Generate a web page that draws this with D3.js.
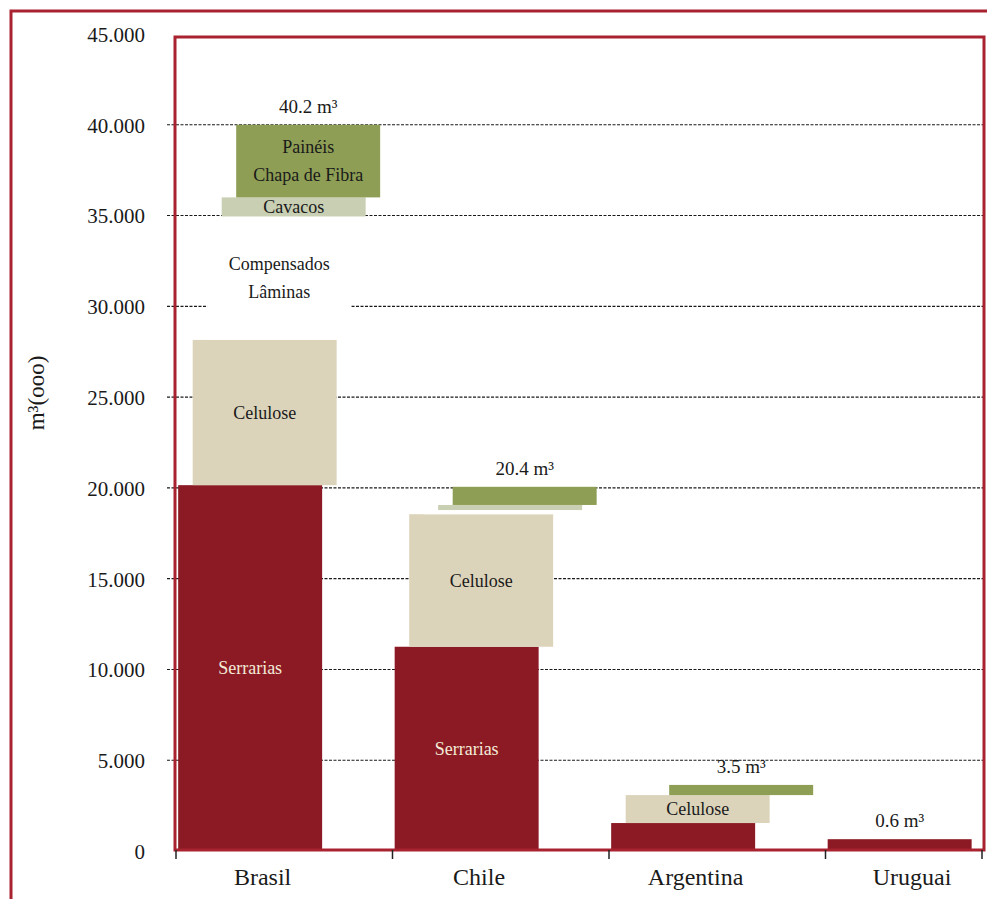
<!DOCTYPE html>
<html>
<head>
<meta charset="utf-8">
<script src="https://cdn.jsdelivr.net/npm/d3@7"></script>
<style>
  html, body { margin: 0; padding: 0; background: #ffffff; }
  svg { display: block; }
</style>
</head>
<body>
<svg id="chart" width="987" height="899"></svg>
<script>
// ---------- DATA (thousand m³) ----------
const categories = ["Brasil", "Chile", "Argentina", "Uruguai"];
const segmentNames = ["Serrarias", "Celulose", "Compensados", "Cavacos", "Painéis"];
const serrarias   = [20150, 11250, 1540, 650];
const celulose    = [8000, 7300, 1540, 0];
const compensados = [6800, 230, 0, 0];
const cavacos     = [1050, 280, 0, 0];
const paineis     = [4000, 1000, 560, 0];
const totalLabels = ["40.2", "20.4", "3.5", "0.6"];
const yTickValues = [0, 5000, 10000, 15000, 20000, 25000, 30000, 35000, 40000, 45000];
const segmentLabels = [
  [["Serrarias"], ["Celulose"], ["Compensados", "Lâminas"], ["Cavacos"], ["Painéis", "Chapa de Fibra"]],
  [["Serrarias"], ["Celulose"], [], [], []],
  [[], ["Celulose"], [], [], []],
  [[], [], [], [], []]
];
const yAxisTitle = "m³(ooo)";

// ---------- STYLE ----------
const FONT = '"Liberation Serif", "DejaVu Serif", serif';
const segColors = ["#8C1A24", "#DCD4BA", "#FFFFFF", "#C8CFB3", "#8E9F55"];
const segTextColors = ["#F3EAD8", "#1a1a1a", "#1a1a1a", "#1a1a1a", "#1a1a1a"];
const frameRed = "#A8232F";

const svg = d3.select("#chart");
const plot = { left: 175, right: 984, top: 37, bottom: 850 };

const series = [serrarias, celulose, compensados, cavacos, paineis];

const y = d3.scaleLinear().domain([0, 45000]).range([851, 34]);
const bandW = 216.5;
const x = d3.scaleBand().domain(categories)
  .range([176, 176 + bandW * categories.length]).paddingInner(0).paddingOuter(0);
const bw = x.bandwidth();
const barW = bw * 0.665;
const step = bw * 0.067;
const barOff = bw * 0.01;

// outer frame
svg.append("rect").attr("x", 11).attr("y", 11).attr("width", 1000).attr("height", 1000)
  .attr("fill", "none").attr("stroke", frameRed).attr("stroke-width", 3);

// gridlines
svg.append("g").selectAll("line")
  .data(yTickValues.filter(v => v > 0 && v < 45000))
  .join("line")
  .attr("x1", 167).attr("x2", plot.right)
  .attr("y1", d => y(d)).attr("y2", d => y(d))
  .attr("stroke", "#1a1a1a").attr("stroke-width", 1.1)
  .attr("stroke-dasharray", "3,1.5");

// y axis labels
const yAxis = d3.axisLeft(y).tickValues(yTickValues).tickSize(0).tickPadding(0)
  .tickFormat(d => d3.format(",")(d).replace(/,/g, "."));
const gy = svg.append("g").attr("transform", "translate(145,0)").call(yAxis);
gy.select(".domain").remove();
gy.selectAll("text").attr("font-family", FONT)
  .attr("font-size", 21).attr("fill", "#1a1a1a").attr("dy", "0.35em");

// y axis title
svg.append("text")
  .attr("transform", `translate(36,${393}) rotate(-90)`)
  .attr("text-anchor", "middle")
  .attr("dy", "0.35em")
  .attr("font-family", FONT)
  .attr("font-size", 23)
  .attr("fill", "#1a1a1a")
  .text(yAxisTitle);

// bars
const rows = [];
categories.forEach((c, ci) => {
  let cum = 0;
  series.forEach((s, si) => {
    const v = s[ci];
    rows.push({ c, ci, si, y0: cum, y1: cum + v, v });
    cum += v;
  });
});

const bars = svg.append("g");
bars.selectAll("rect")
  .data(rows.filter(r => r.v > 0))
  .join("rect")
  .attr("x", r => x(r.c) + barOff + r.si * step)
  .attr("width", barW)
  .attr("y", r => y(r.y1))
  .attr("height", r => y(r.y0) - y(r.y1))
  .attr("fill", r => segColors[r.si]);

// segment labels
const lab = svg.append("g");
rows.forEach(r => {
  const lines = segmentLabels[r.ci][r.si];
  if (!lines || !lines.length) return;
  const cx = x(r.c) + barOff + r.si * step + barW / 2;
  const cy = (y(r.y0) + y(r.y1)) / 2;
  const lh = 28;
  const t = lab.append("text")
    .attr("text-anchor", "middle")
    .attr("font-family", FONT)
    .attr("font-size", 18)
    .attr("fill", segTextColors[r.si]);
  lines.forEach((ln, i) => {
    t.append("tspan")
      .attr("x", cx)
      .attr("y", cy + (i - (lines.length - 1) / 2) * lh)
      .attr("dy", "0.35em")
      .text(ln);
  });
});

// totals
categories.forEach((c, ci) => {
  const total = series.reduce((a, s) => a + s[ci], 0);
  let topSeg = 0;
  series.forEach((s, si) => { if (s[ci] > 0) topSeg = si; });
  const cx = x(c) + barOff + topSeg * step + barW / 2;
  svg.append("text")
    .attr("x", cx).attr("y", y(total) - 12)
    .attr("text-anchor", "middle")
    .attr("font-family", FONT)
    .attr("font-size", 19)
    .attr("fill", "#1a1a1a")
    .text(totalLabels[ci] + " m³");
});

// inner frame
svg.append("rect")
  .attr("x", plot.left).attr("y", plot.top)
  .attr("width", plot.right - plot.left).attr("height", plot.bottom - plot.top)
  .attr("fill", "none").attr("stroke", frameRed).attr("stroke-width", 3);

// x axis ticks & labels
const tickXs = categories.map(c => x(c)).concat([plot.right - 2]);
svg.append("g").selectAll("line").data(tickXs).join("line")
  .attr("x1", d => d).attr("x2", d => d)
  .attr("y1", plot.bottom).attr("y2", plot.bottom + 9)
  .attr("stroke", "#222").attr("stroke-width", 1.5);

svg.append("g").selectAll("text").data(categories).join("text")
  .attr("x", c => x(c) + bw * 0.4)
  .attr("y", 885)
  .attr("text-anchor", "middle")
  .attr("font-family", FONT)
  .attr("font-size", 24)
  .attr("fill", "#1a1a1a")
  .text(c => c);
</script>
</body>
</html>
